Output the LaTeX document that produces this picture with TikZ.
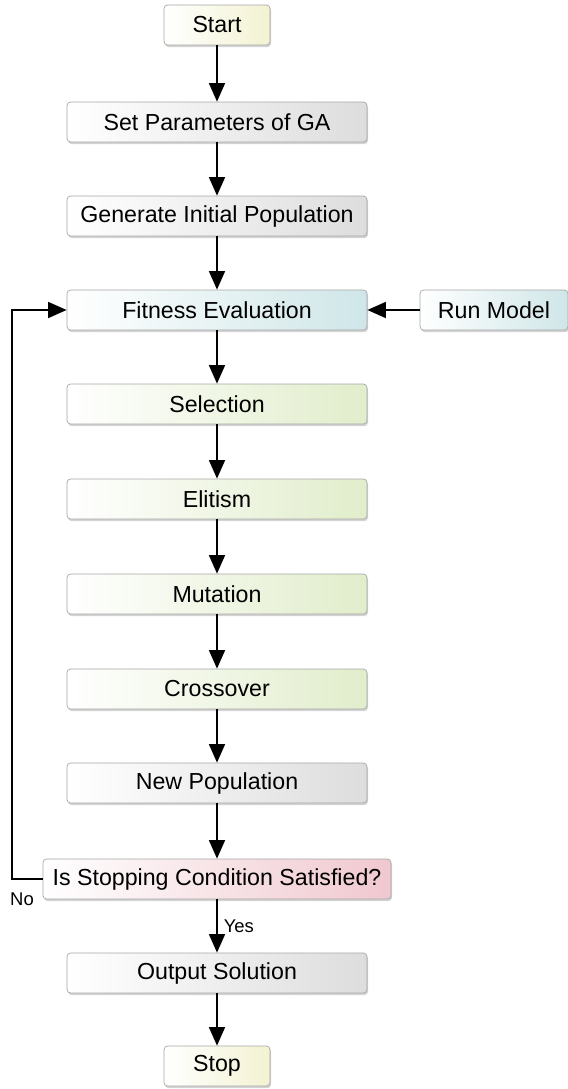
\documentclass[tikz,border=0pt]{standalone}
\usepackage{fontspec}
\setmainfont{Liberation Sans}
\usepackage{tikz}
\usetikzlibrary{arrows.meta,shadows,positioning}
\definecolor{gaYellow}{HTML}{F3F2D2}
\definecolor{gaGrey}{HTML}{DDDDDD}
\definecolor{gaBlue}{HTML}{CFE6E8}
\definecolor{gaGreen}{HTML}{E1EDCB}
\definecolor{gaPink}{HTML}{F0C8CF}

\begin{document}
\begin{tikzpicture}[
  x=0.02cm, y=-0.02cm,
  font=\fontsize{13.2}{15}\selectfont,
  box/.style={draw=black!35, line width=0.4pt, rounded corners=2pt,
    minimum height=0.8cm, inner sep=2pt,
    left color=white, middle color=white, right color=#1,
    drop shadow={opacity=0.35, shadow xshift=0.6pt, shadow yshift=-1.2pt}},
  wide/.style={box=#1, minimum width=6cm},
  arr/.style={line width=1.1pt, -{Triangle[width=9pt,length=10.5pt]}},
]
\useasboundingbox (0,0) rectangle (568,1089);
\node[box=gaYellow, minimum width=2.12cm] (start) at (217,25) {Start};
\node[wide=gaGrey] (param) at (217,122) {Set Parameters of GA};
\node[wide=gaGrey] (init) at (217,216) {Generate Initial Population};
\node[wide=gaBlue] (fit) at (217,310) {Fitness Evaluation};
\node[box=gaBlue, minimum width=2.96cm] (model) at (494,310) {Run Model};
\node[wide=gaGreen] (sel) at (217,404) {Selection};
\node[wide=gaGreen] (elit) at (217,499) {Elitism};
\node[wide=gaGreen] (mut) at (217,594) {Mutation};
\node[wide=gaGreen] (cross) at (217,689) {Crossover};
\node[wide=gaGrey] (newpop) at (217,783) {New Population};
\node[box=gaPink, minimum width=6.96cm] (stopq) at (217,879) {Is Stopping Condition Satisfied?};
\node[wide=gaGrey] (out) at (217,973) {Output Solution};
\node[box=gaYellow, minimum width=2.12cm] (stop) at (217,1066) {Stop};
\coordinate (loopb) at (12,879);
\coordinate (loopt) at (12,310);

\draw[arr] (start) -- (param);
\draw[arr] (param) -- (init);
\draw[arr] (init) -- (fit);
\draw[arr] (model) -- (fit);
\draw[arr] (fit) -- (sel);
\draw[arr] (sel) -- (elit);
\draw[arr] (elit) -- (mut);
\draw[arr] (mut) -- (cross);
\draw[arr] (cross) -- (newpop);
\draw[arr] (newpop) -- (stopq);
\draw[arr] (stopq) -- node[right, font=\fontsize{10.5}{12}\selectfont] {Yes} (out);
\draw[arr] (out) -- (stop);
\draw[arr] (stopq.west) -- (loopb) -- (loopt) -- (fit.west);
\node[font=\fontsize{10.5}{12}\selectfont, anchor=north] (no) at (22,887) {No};
\end{tikzpicture}
\end{document}
